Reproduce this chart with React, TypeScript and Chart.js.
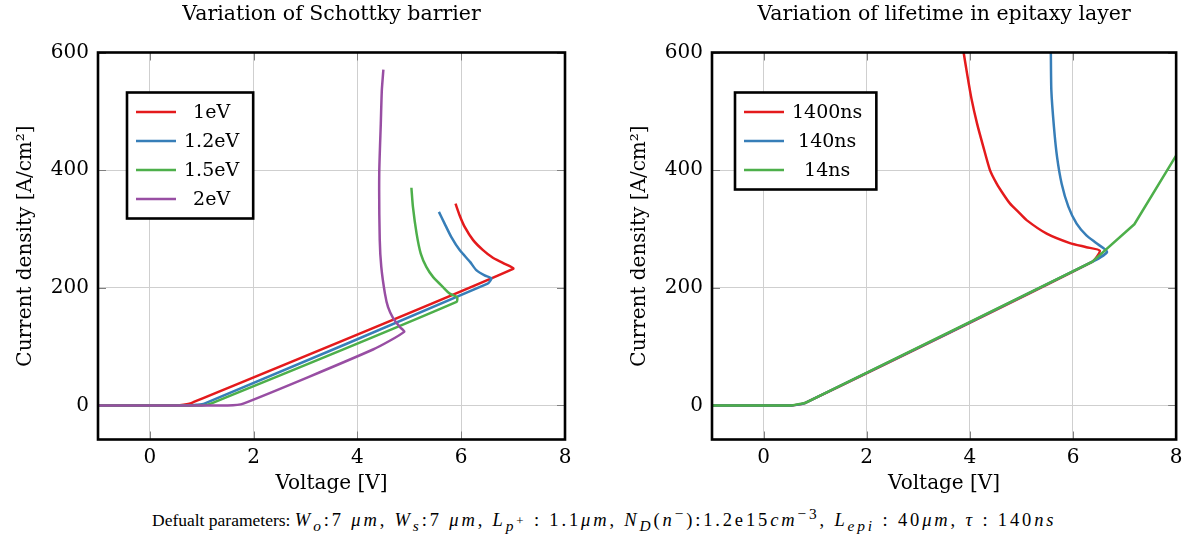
import React, { useEffect, useRef } from "react";
import { Chart, registerables } from "chart.js";

Chart.register(...registerables);

const FONT = "'DejaVu Serif', 'Liberation Serif', serif";
const CAPTION_FONT = "'Liberation Serif', 'Times New Roman', serif";

// ---------- Left chart: Variation of Schottky barrier ----------
const barrierLabels = ["1eV", "1.2eV", "1.5eV", "2eV"];
const barrierColors = ["#e41a1c", "#377eb8", "#4daf4a", "#984ea3"];

const volt1eV = [-1, 0.5, 0.65, 0.8, 7.0, 6.81, 6.61, 6.42, 6.23, 6.07, 5.97, 5.89];
const curr1eV = [0, 0, 1, 4, 232, 242, 251, 264, 281, 303, 323, 343];

const volt12eV = [-1, 0.75, 0.9, 1.05, 6.51, 6.58, 6.45, 6.29, 6.17, 5.97, 5.81, 5.68, 5.57];
const curr12eV = [0, 0, 1, 3, 207, 216, 221, 230, 244, 264, 286, 309, 329];

const volt15eV = [-1, 1.0, 1.2, 5.91, 5.92, 5.78, 5.65, 5.46, 5.33, 5.22, 5.14, 5.07, 5.04];
const curr15eV = [0, 0, 4, 176, 184, 190, 201, 218, 235, 258, 292, 337, 370];

const volt2eV = [-1, 1.5, 1.8, 4.3, 4.9, 4.82, 4.69, 4.59, 4.53, 4.46, 4.43, 4.42, 4.45, 4.47, 4.5];
const curr2eV = [0, 0, 3, 95, 125, 133, 148, 167, 190, 235, 281, 394, 479, 536, 571];

// ---------- Right chart: Variation of lifetime in epitaxy layer ----------
const lifetimeLabels = ["1400ns", "140ns", "14ns"];
const lifetimeColors = ["#e41a1c", "#377eb8", "#4daf4a"];

const volt1400ns = [-1, 0.55, 0.8, 6.37, 6.52, 6.26, 5.94, 5.49, 5.1, 4.94, 4.78, 4.65, 4.52, 4.39, 4.26, 4.14, 4.03, 3.95, 3.87];
const curr1400ns = [0, 0, 4, 244, 263, 269, 276, 292, 315, 329, 343, 359, 377, 400, 440, 479, 522, 562, 605];

const volt140ns = [-1, 0.55, 0.8, 6.37, 6.66, 6.45, 6.26, 6.07, 5.91, 5.78, 5.69, 5.63, 5.58, 5.57];
const curr140ns = [0, 0, 4, 244, 261, 276, 289, 309, 338, 377, 423, 474, 536, 605];

const volt14ns = [-1, 0.55, 0.8, 6.37, 7.19, 8.05];
const curr14ns = [0, 0, 4, 244, 308, 432];

// ---------- Axes ----------
const xTicks = [0, 2, 4, 6, 8];
const yTicks = [0, 200, 400, 600];
const xMin = -1;
const xMax = 8;
const yMin = -58;
const yMax = 600;

const chartTitles = ["Variation of Schottky barrier", "Variation of lifetime in epitaxy layer"];
const xTitle = "Voltage [V]";
const yTitle = "Current density [A/cm²]";

type Series = { label: string; color: string; v: number[]; j: number[]; tension: number };

const leftSeries: Series[] = [
  { label: barrierLabels[0], color: barrierColors[0], v: volt1eV, j: curr1eV, tension: 0.2 },
  { label: barrierLabels[1], color: barrierColors[1], v: volt12eV, j: curr12eV, tension: 0.2 },
  { label: barrierLabels[2], color: barrierColors[2], v: volt15eV, j: curr15eV, tension: 0.2 },
  { label: barrierLabels[3], color: barrierColors[3], v: volt2eV, j: curr2eV, tension: 0.2 },
];

const rightSeries: Series[] = [
  { label: lifetimeLabels[0], color: lifetimeColors[0], v: volt1400ns, j: curr1400ns, tension: 0.2 },
  { label: lifetimeLabels[1], color: lifetimeColors[1], v: volt140ns, j: curr140ns, tension: 0.2 },
  { label: lifetimeLabels[2], color: lifetimeColors[2], v: volt14ns, j: curr14ns, tension: 0 },
];

const framePlugin = {
  id: "frameBox",
  beforeDatasetsDraw(chart: any) {
    const { ctx, chartArea, scales } = chart;
    const len = 8;
    ctx.save();
    ctx.strokeStyle = "#808080";
    ctx.lineWidth = 1;
    ctx.beginPath();
    for (const t of scales.x.ticks) {
      const px = Math.round(scales.x.getPixelForValue(t.value)) + 0.5;
      ctx.moveTo(px, chartArea.bottom);
      ctx.lineTo(px, chartArea.bottom - len);
      ctx.moveTo(px, chartArea.top);
      ctx.lineTo(px, chartArea.top + len);
    }
    for (const t of scales.y.ticks) {
      const py = Math.round(scales.y.getPixelForValue(t.value)) + 0.5;
      ctx.moveTo(chartArea.left, py);
      ctx.lineTo(chartArea.left + len, py);
      ctx.moveTo(chartArea.right, py);
      ctx.lineTo(chartArea.right - len, py);
    }
    ctx.stroke();
    ctx.restore();
  },
  afterDatasetsDraw(chart: any) {
    const { ctx, chartArea } = chart;
    ctx.save();
    ctx.strokeStyle = "#000";
    ctx.lineWidth = 2.6;
    ctx.strokeRect(chartArea.left, chartArea.top, chartArea.right - chartArea.left, chartArea.bottom - chartArea.top);
    ctx.restore();
  },
};

const boxLegendPlugin = {
  id: "boxLegend",
  afterDraw(chart: any, _args: any, opts: any) {
    const { ctx, chartArea } = chart;
    const ds = chart.data.datasets;
    ctx.save();
    ctx.font = `${opts.fontSize}px ${FONT}`;
    const maxW = Math.max(...ds.map((d: any) => ctx.measureText(d.label).width));
    const x0 = chartArea.left + opts.offsetX;
    const y0 = chartArea.top + opts.offsetY;
    const w = opts.padL + opts.lineLen + opts.gap + maxW + opts.padR;
    const h = opts.padV * 2 + (ds.length - 1) * opts.rowH;
    ctx.fillStyle = "#fff";
    ctx.fillRect(x0, y0, w, h);
    ctx.strokeStyle = "#000";
    ctx.lineWidth = 2.6;
    ctx.strokeRect(x0, y0, w, h);
    ds.forEach((d: any, i: number) => {
      const y = y0 + opts.padV + i * opts.rowH;
      ctx.strokeStyle = d.borderColor;
      ctx.lineWidth = 2.5;
      ctx.beginPath();
      ctx.moveTo(x0 + opts.padL, y);
      ctx.lineTo(x0 + opts.padL + opts.lineLen, y);
      ctx.stroke();
      ctx.fillStyle = "#000";
      ctx.textAlign = "center";
      ctx.textBaseline = "middle";
      ctx.fillText(d.label, x0 + opts.padL + opts.lineLen + opts.gap + maxW / 2, y + 1);
    });
    ctx.restore();
  },
};

function makeConfig(series: Series[], title: string, padRight: number, legendX: number): any {
  return {
    type: "line",
    data: {
      datasets: series.map((s, i) => ({
        label: s.label,
        data: s.v.map((x, k) => ({ x, y: s.j[k] })),
        borderColor: s.color,
        backgroundColor: s.color,
        borderWidth: 2.5,
        pointRadius: 0,
        tension: s.tension,
        fill: false,
        order: series.length - 1 - i,
        borderJoinStyle: "round",
      })),
    },
    options: {
      responsive: false,
      maintainAspectRatio: false,
      animation: false,
      events: [],
      layout: { padding: { left: 0, right: padRight, top: 0, bottom: 0 } },
      plugins: {
        legend: { display: false },
        tooltip: { enabled: false },
        title: {
          display: true,
          text: title,
          fullSize: false,
          color: "#000",
          font: { family: FONT, size: 20.5, weight: "normal" },
          padding: { top: 2, bottom: 25.9 },
        },
        boxLegend: { offsetX: legendX, offsetY: 40, fontSize: 19, padL: 9, lineLen: 40, gap: 8, padR: 14, padV: 19.5, rowH: 29 },
      },
      scales: {
        x: {
          type: "linear",
          position: "bottom",
          min: xMin,
          max: xMax,
          afterBuildTicks: (s: any) => {
            s.ticks = xTicks.map((v) => ({ value: v }));
          },
          afterFit: (s: any) => {
            s.height = 60.5;
          },
          ticks: { color: "#000", font: { family: FONT, size: 20 }, padding: 6.5, maxRotation: 0, autoSkip: false },
          grid: { color: "#cfcfcf", lineWidth: 1, drawTicks: false },
          border: { display: false },
          title: {
            display: true,
            text: xTitle,
            color: "#000",
            font: { family: FONT, size: 20 },
            padding: { top: 0, bottom: 4 },
          },
        },
        y: {
          type: "linear",
          min: yMin,
          max: yMax,
          afterBuildTicks: (s: any) => {
            s.ticks = yTicks.map((v) => ({ value: v }));
          },
          afterFit: (s: any) => {
            s.width = 98;
          },
          ticks: { color: "#000", font: { family: FONT, size: 20 }, padding: 9, autoSkip: false },
          grid: { color: "#cfcfcf", lineWidth: 1, drawTicks: false },
          border: { display: false },
          title: {
            display: true,
            text: yTitle,
            color: "#000",
            font: { family: FONT, size: 20 },
            padding: { top: 14, bottom: 0 },
          },
        },
      },
    },
    plugins: [framePlugin, boxLegendPlugin],
  };
}

function ChartCanvas(props: { series: Series[]; title: string; padRight: number; left: number; width: number; legendX: number }) {
  const ref = useRef<HTMLCanvasElement | null>(null);
  useEffect(() => {
    if (!ref.current) return;
    const chart = new Chart(ref.current, makeConfig(props.series, props.title, props.padRight, props.legendX));
    return () => chart.destroy();
  }, []);
  return (
    <canvas
      ref={ref}
      width={props.width}
      height={500}
      style={{ position: "absolute", left: props.left, top: 0, width: props.width, height: 500 }}
    />
  );
}

export default function App() {
  return (
    <div
      style={{
        position: "fixed",
        left: 0,
        top: 0,
        width: 1189,
        height: 538,
        background: "#fff",
        overflow: "hidden",
        fontFamily: CAPTION_FONT,
        color: "#000",
      }}
    >
      <ChartCanvas series={leftSeries} title={chartTitles[0]} padRight={29} left={0} width={594} legendX={29} />
      <ChartCanvas series={rightSeries} title={chartTitles[1]} padRight={12} left={614} width={575} legendX={23} />
      <div
        style={{
          position: "absolute",
          left: 152,
          top: 504,
          fontSize: 17.5,
          lineHeight: "20px",
          whiteSpace: "nowrap",
        }}
      >
        Defualt parameters:{" "}
        <span style={{ fontSize: 18.5, letterSpacing: 2.85 }}>
          <i>W</i>
          <sub>
            <i>o</i>
          </sub>
          :7 <i>μm</i>, <i>W</i>
          <sub>
            <i>s</i>
          </sub>
          :7 <i>μm</i>, <i>L</i>
          <sub>
            <i>p</i>
            <sup>+</sup>
          </sub>{" "}
          : 1.1<i>μm</i>, <i>N</i>
          <sub>
            <i>D</i>
          </sub>
          (<i>n</i>
          <sup>−</sup>):1.2e15<i>cm</i>
          <sup>−3</sup>, <i>L</i>
          <sub>
            <i>epi</i>
          </sub>{" "}
          : 40<i>μm</i>, <i>τ</i> : 140<i>ns</i>
        </span>
      </div>
    </div>
  );
}
